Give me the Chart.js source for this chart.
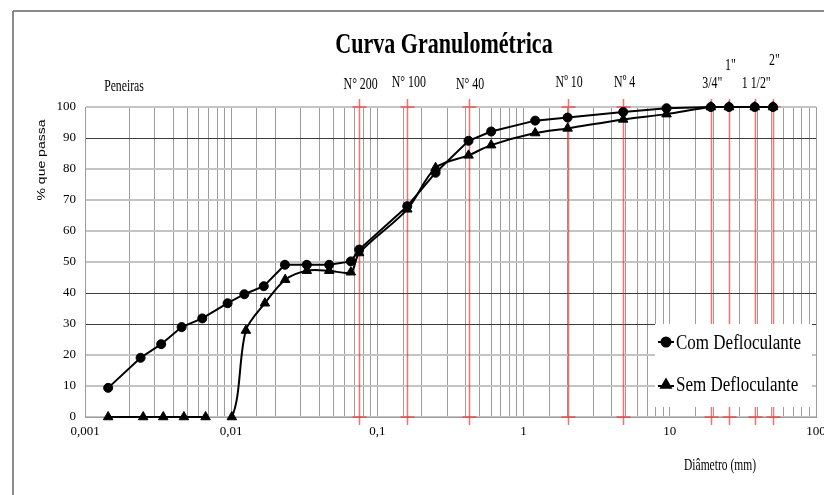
<!DOCTYPE html>
<html><head><meta charset="utf-8">
<script src="https://cdn.jsdelivr.net/npm/chart.js@4/dist/chart.umd.min.js"></script>
<style>html,body{margin:0;padding:0;background:#fff;overflow:hidden}#wrap{width:824px;height:495px;position:relative}</style>
</head><body><div id="wrap"><canvas id="c" width="824" height="495"></canvas></div>
<script>
// ---- data ----
const seriesNames = ['Com Defloculante', 'Sem Defloculante'];
const comDiam = [0.00144, 0.0024, 0.00332, 0.00458, 0.00634, 0.00945, 0.0123, 0.0167, 0.0233, 0.0329, 0.0468, 0.0658, 0.075, 0.16, 0.25, 0.42, 0.6, 1.2, 2.0, 4.8, 9.5, 19.1, 25.4, 38.1, 50.8];
const comPass = [9.4, 19.1, 23.5, 29.0, 31.8, 36.7, 39.6, 42.2, 49.1, 49.1, 49.1, 50.2, 54.0, 68.0, 78.8, 89.1, 92.1, 95.6, 96.6, 98.4, 99.6, 100, 100, 100, 100];
const semDiam = [0.00144, 0.0025, 0.00343, 0.00475, 0.00668, 0.0101, 0.0126, 0.017, 0.0234, 0.0329, 0.0468, 0.0658, 0.075, 0.16, 0.25, 0.42, 0.6, 1.2, 2.0, 4.8, 9.5, 19.1, 25.4, 38.1, 50.8];
const semPass = [0, 0, 0, 0, 0, 0, 27.9, 36.7, 44.3, 47.2, 47.2, 46.7, 52.9, 67.0, 80.4, 84.4, 87.7, 91.6, 93.1, 96.0, 97.7, 100, 100, 100, 100];
const sieveNames = ['N° 200', 'N° 100', 'N° 40', 'Nº 10', 'Nº 4', '3/4"', '1"', '1 1/2"', '2"'];
const sieveOpenings = [0.075, 0.16, 0.42, 2.0, 4.8, 19.1, 25.4, 38.1, 50.8];
const xTickValues = [0.001, 0.01, 0.1, 1, 10, 100];
const xTickLabels = ['0,001', '0,01', '0,1', '1', '10', '100'];
const yTickValues = [0, 10, 20, 30, 40, 50, 60, 70, 80, 90, 100];
const titleText = 'Curva Granulométrica';
const xTitleText = 'Diâmetro (mm)';
const yTitleText = '% que passa';
const sieveHeaderText = 'Peneiras';

// ---- layout (not data) ----
const sieveLabelBaseline = [89, 87, 89, 87, 87, 88, 70, 88, 65];
const SERIF = '"Liberation Serif", "Times New Roman", serif';
const SANS = '"Liberation Sans", Arial, sans-serif';

function txt(c, s, font, cx, base, sx, align) {
  c.save();
  c.font = font; c.fillStyle = '#000';
  c.textBaseline = 'alphabetic'; c.textAlign = align || 'center';
  c.translate(cx, base); c.scale(sx, 1);
  c.fillText(s, 0, 0);
  c.restore();
}

const deco = {
  id: 'deco',
  beforeDraw(chart) {
    const c = chart.ctx;
    c.save();
    c.fillStyle = '#fff'; c.fillRect(0, 0, chart.width, chart.height);
    c.strokeStyle = '#666'; c.lineWidth = 1.5;
    c.beginPath(); c.moveTo(13, 11); c.lineTo(chart.width, 11);
    c.moveTo(13, 11); c.lineTo(13, chart.height); c.stroke();
    c.restore();
  },
  beforeDatasetsDraw(chart) {
    const c = chart.ctx, xs = chart.scales.x, a = chart.chartArea;
    c.save();
    c.strokeStyle = 'rgba(255,30,30,0.65)'; c.lineWidth = 1.5;
    sieveOpenings.forEach(v => {
      const px = Math.round(xs.getPixelForValue(v)) + 0.5;
      c.beginPath();
      c.moveTo(px, a.top - 8); c.lineTo(px, a.bottom + 8);
      c.moveTo(px - 7, a.top); c.lineTo(px + 7, a.top);
      c.moveTo(px - 7, a.bottom); c.lineTo(px + 7, a.bottom);
      c.stroke();
    });
    c.restore();
  },
  afterDatasetsDraw(chart) {
    const c = chart.ctx, xs = chart.scales.x;
    // legend box
    c.save();
    c.fillStyle = '#fff'; c.fillRect(655, 324, 157, 83);
    c.strokeStyle = '#000'; c.fillStyle = '#000'; c.lineWidth = 2;
    c.beginPath(); c.moveTo(658, 342); c.lineTo(674, 342); c.stroke();
    Chart.helpers.drawPoint(c, {pointStyle: 'circle', radius: 4.5, borderWidth: 1, rotation: 0}, 666, 342);
    c.lineWidth = 2;
    c.beginPath(); c.moveTo(658, 386); c.lineTo(674, 386); c.stroke();
    Chart.helpers.drawPoint(c, {pointStyle: 'triangle', radius: 5.5, borderWidth: 1, rotation: 0}, 666, 385);
    c.restore();
    txt(c, seriesNames[0], '20px ' + SERIF, 676, 349, 0.85, 'left');
    txt(c, seriesNames[1], '20px ' + SERIF, 676, 391, 0.85, 'left');
    // title
    txt(c, titleText, 'bold 29px ' + SERIF, 444, 53, 0.76);
    // sieve header and labels
    txt(c, sieveHeaderText, '17px ' + SERIF, 124, 91, 0.69);
    sieveNames.forEach((s, i) => {
      txt(c, s, '17px ' + SERIF, xs.getPixelForValue(sieveOpenings[i]) + 1.5, sieveLabelBaseline[i], 0.7);
    });
    // x title
    txt(c, xTitleText, '16px ' + SERIF, 720, 470, 0.72);
    // y title
    c.save();
    c.font = '14px ' + SANS; c.fillStyle = '#000';
    c.textAlign = 'center'; c.textBaseline = 'middle';
    c.translate(42, 160); c.scale(0.75, 1); c.rotate(-Math.PI / 2);
    c.fillText(yTitleText, 0, 0);
    c.restore();
  }
};

const darkY = [90, 40, 30];

new Chart(document.getElementById('c'), {
  type: 'scatter',
  data: {
    datasets: [
      {
        label: seriesNames[0],
        data: comDiam.map((d, i) => ({x: d, y: comPass[i]})),
        showLine: true, borderColor: '#000', backgroundColor: '#000', borderWidth: 2,
        pointStyle: 'circle', pointRadius: 4.5, pointBorderWidth: 1, tension: 0, clip: false
      },
      {
        label: seriesNames[1],
        data: semDiam.map((d, i) => ({x: d, y: semPass[i]})),
        showLine: true, borderColor: '#000', backgroundColor: '#000', borderWidth: 2,
        pointStyle: 'triangle', pointRadius: 5.5, pointBorderWidth: 1, tension: 0.3, clip: false,
        segment: {borderColor: ctx => ctx.p0DataIndex === 4 ? 'rgba(0,0,0,0)' : '#000'}
      }
    ]
  },
  options: {
    responsive: false, animation: false, devicePixelRatio: 1,
    layout: {padding: {left: 40, right: 8, top: 107, bottom: 48}},
    plugins: {legend: {display: false}, title: {display: false}, tooltip: {enabled: false}},
    scales: {
      x: {
        type: 'logarithmic', min: xTickValues[0], max: xTickValues[xTickValues.length - 1],
        grid: {color: '#9c9c9c', lineWidth: 1, drawTicks: false},
        border: {color: '#9c9c9c'},
        ticks: {
          autoSkip: false, maxRotation: 0, padding: 7, color: '#000',
          font: {family: SERIF, size: 13},
          callback: v => {
            const i = xTickValues.findIndex(t => Math.abs(t - v) / t < 1e-6);
            return i >= 0 ? xTickLabels[i] : '';
          }
        },
        afterFit: s => { s.height = 30; s.paddingLeft = 0; s.paddingRight = 0; }
      },
      y: {
        type: 'linear', min: yTickValues[0], max: yTickValues[yTickValues.length - 1],
        grid: {
          drawTicks: false,
          color: ctx => darkY.includes(ctx.tick && ctx.tick.value) ? '#3c3c3c' : '#c4c4c4',
          lineWidth: ctx => darkY.includes(ctx.tick && ctx.tick.value) ? 1 : 2
        },
        border: {color: '#9c9c9c'},
        ticks: {stepSize: 10, padding: 9, color: '#000', font: {family: SERIF, size: 13}},
        afterFit: s => { s.width = 45; }
      }
    }
  },
  plugins: [deco]
});
</script>
</body></html>
